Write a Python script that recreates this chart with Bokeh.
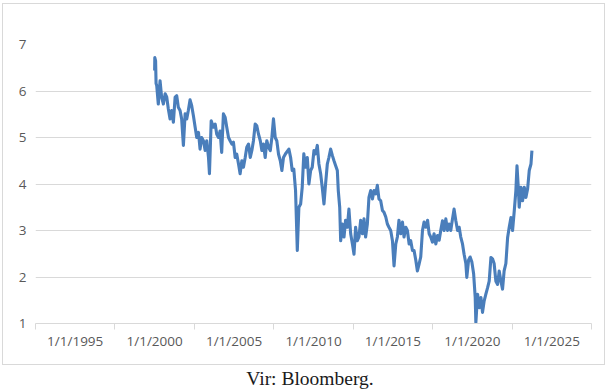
from bokeh.plotting import figure
from bokeh.models import FixedTicker, Range1d, ColumnDataSource, Div, InlineStyleSheet
from bokeh.layouts import column
from bokeh.embed import file_html
from bokeh.resources import INLINE

# decimal years and yields
years = [2000.00, 2000.01, 2000.06, 2000.09, 2000.13, 2000.23, 2000.34, 2000.44, 2000.55, 2000.66,
         2000.76, 2000.86, 2000.97, 2001.07, 2001.18, 2001.29, 2001.39, 2001.49, 2001.60, 2001.70,
         2001.81, 2001.92, 2002.02, 2002.12, 2002.23, 2002.33, 2002.44, 2002.55, 2002.65, 2002.76,
         2002.86, 2002.96, 2003.07, 2003.18, 2003.28, 2003.39, 2003.45, 2003.56, 2003.70, 2003.81,
         2003.91, 2004.02, 2004.12, 2004.22, 2004.33, 2004.44, 2004.54, 2004.65, 2004.75, 2004.86,
         2004.96, 2005.07, 2005.17, 2005.28, 2005.38, 2005.49, 2005.59, 2005.70, 2005.80, 2005.91,
         2006.02, 2006.12, 2006.22, 2006.33, 2006.43, 2006.54, 2006.65, 2006.75, 2006.85, 2006.96,
         2007.06, 2007.17, 2007.28, 2007.38, 2007.48, 2007.59, 2007.69, 2007.80, 2007.91, 2008.01,
         2008.11, 2008.24, 2008.45, 2008.56, 2008.66, 2008.76, 2008.87, 2008.98, 2009.08, 2009.19,
         2009.29, 2009.39, 2009.50, 2009.61, 2009.71, 2009.82, 2009.92, 2010.03, 2010.13, 2010.24,
         2010.34, 2010.45, 2010.55, 2010.66, 2010.76, 2010.87, 2010.97, 2011.08, 2011.19, 2011.29,
         2011.39, 2011.50, 2011.56, 2011.65, 2011.71, 2011.82, 2011.92, 2012.02, 2012.13, 2012.23,
         2012.34, 2012.45, 2012.55, 2012.65, 2012.76, 2012.86, 2012.97, 2013.08, 2013.18, 2013.28,
         2013.39, 2013.49, 2013.60, 2013.71, 2013.81, 2013.92, 2014.02, 2014.12, 2014.23, 2014.34,
         2014.44, 2014.55, 2014.65, 2014.75, 2014.86, 2014.97, 2015.07, 2015.18, 2015.28, 2015.38,
         2015.49, 2015.60, 2015.70, 2015.81, 2015.91, 2016.02, 2016.12, 2016.23, 2016.33, 2016.44,
         2016.54, 2016.65, 2016.75, 2016.86, 2016.96, 2017.07, 2017.18, 2017.28, 2017.38, 2017.49,
         2017.59, 2017.70, 2017.81, 2017.91, 2018.01, 2018.12, 2018.22, 2018.33, 2018.44, 2018.54,
         2018.64, 2018.75, 2018.85, 2018.96, 2019.07, 2019.17, 2019.27, 2019.38, 2019.48, 2019.59,
         2019.65, 2019.76, 2019.86, 2019.97, 2020.08, 2020.18, 2020.22, 2020.33, 2020.43, 2020.54,
         2020.64, 2020.74, 2020.85, 2020.96, 2021.06, 2021.17, 2021.27, 2021.37, 2021.48, 2021.59,
         2021.69, 2021.80, 2021.90, 2022.00, 2022.11, 2022.22, 2022.32, 2022.43, 2022.53, 2022.64,
         2022.74, 2022.81, 2022.89, 2022.95, 2023.06, 2023.16, 2023.27, 2023.37, 2023.48, 2023.58,
         2023.69, 2023.75]

yields = [6.44, 6.72, 6.65, 6.16, 6.12, 5.72, 6.22, 5.87, 5.72, 5.94,
          5.87, 5.62, 5.40, 5.58, 5.33, 5.87, 5.90, 5.65, 5.58, 5.40,
          4.83, 5.51, 5.40, 5.58, 5.81, 5.69, 5.47, 5.22, 5.00, 5.11,
          4.75, 5.00, 4.93, 4.72, 4.93, 4.57, 4.22, 5.36, 5.22, 5.29,
          5.07, 5.00, 5.14, 4.68, 5.51, 5.43, 5.22, 5.00, 4.93, 4.86,
          4.90, 4.57, 4.64, 4.43, 4.22, 4.50, 4.36, 4.57, 4.79, 4.86,
          4.57, 4.72, 4.93, 5.29, 5.25, 5.07, 4.93, 4.72, 4.86, 4.57,
          4.93, 4.79, 4.72, 5.00, 5.40, 5.00, 4.93, 4.64, 4.50, 4.29,
          4.57, 4.65, 4.75, 4.57, 4.29, 4.32, 3.86, 2.57, 3.50, 3.57,
          3.93, 4.65, 4.36, 4.57, 4.00, 4.29, 4.36, 4.72, 4.65, 4.83,
          4.43, 4.22, 3.93, 3.57, 4.00, 4.43, 4.57, 4.75, 4.61, 4.50,
          4.40, 4.29, 3.86, 3.50, 2.78, 3.14, 2.86, 3.22, 3.07, 3.46,
          2.93, 2.71, 2.49, 3.07, 2.78, 2.86, 3.22, 2.93, 3.25, 2.86,
          3.14, 3.71, 3.86, 3.68, 3.86, 3.79, 3.97, 3.68, 3.64, 3.43,
          3.39, 3.29, 3.14, 3.07, 3.00, 2.78, 2.24, 2.71, 2.86, 3.22,
          2.93, 3.18, 2.86, 3.07, 3.00, 2.71, 2.78, 2.57, 2.57, 2.36,
          2.13, 2.28, 2.43, 3.00, 3.18, 3.07, 3.22, 2.93, 2.86, 2.75,
          2.93, 2.71, 2.89, 2.79, 3.00, 3.21, 3.00, 3.25, 3.00, 3.14,
          3.00, 3.25, 3.46, 3.21, 3.00, 3.07, 2.86, 2.71, 2.49, 2.29,
          1.99, 2.36, 2.43, 2.32, 2.07, 1.56, 1.02, 1.63, 1.34, 1.56,
          1.24, 1.48, 1.63, 1.77, 1.91, 2.42, 2.39, 2.29, 1.91, 1.84,
          2.13, 1.91, 1.74, 2.13, 2.29, 2.85, 3.07, 3.28, 3.00, 3.43,
          3.86, 4.39, 3.93, 3.50, 3.93, 3.64, 3.93, 3.71, 3.90, 4.29,
          4.43, 4.72]

label_years = [1995, 2000, 2005, 2010, 2015, 2020, 2025]
tick_labels = ["1/1/1995", "1/1/2000", "1/1/2005", "1/1/2010", "1/1/2015", "1/1/2020", "1/1/2025"]
boundary_years = [1992.5, 1997.5, 2002.5, 2007.5, 2012.5, 2017.5, 2022.5, 2027.5]
y_ticks = [1, 2, 3, 4, 5, 6, 7]
caption = "Vir: Bloomberg."

GRID = "#d9d9d9"
LABEL = "#595959"
FONT = "Open Sans"

p = figure(width=610, height=366, output_backend="svg", toolbar_location=None,
           x_range=Range1d(1992.5, 2027.5), y_range=Range1d(1, 7),
           min_border_left=35, min_border_right=19, min_border_top=44, min_border_bottom=43)
p.outline_line_color = None
p.background_fill_color = "white"
p.border_fill_color = "white"
p.stylesheets = [InlineStyleSheet(css=(
    ":host { position: relative; }\n"
    ":host::after { content: ''; position: absolute; left: 2px; top: 3px; "
    "width: 603px; height: 362px; border: 1px solid #d9d9d9; "
    "pointer-events: none; z-index: 10; }"))]

src = ColumnDataSource(data=dict(x=years, y=yields))
p.line("x", "y", source=src, line_color="#4a7ebb", line_width=3.1, line_join="round")

# x axis
xa = p.xaxis[0]
xa.ticker = FixedTicker(ticks=label_years, minor_ticks=boundary_years)
xa.major_label_overrides = {yv: lab for yv, lab in zip(label_years, tick_labels)}
xa.major_tick_line_color = None
xa.major_tick_out = 0
xa.major_tick_in = 0
xa.minor_tick_line_color = GRID
xa.minor_tick_out = 6
xa.minor_tick_in = 0
xa.axis_line_color = GRID
xa.major_label_standoff = 2
xa.major_label_text_font = FONT
xa.major_label_text_font_size = "13.5px"
xa.major_label_text_color = LABEL

# y axis
ya = p.yaxis[0]
ya.ticker = FixedTicker(ticks=y_ticks)
ya.axis_line_color = None
ya.major_tick_line_color = None
ya.minor_tick_line_color = None
ya.major_tick_out = 0
ya.major_tick_in = 0
ya.major_label_standoff = 9
ya.major_label_text_font = FONT
ya.major_label_text_font_size = "13.5px"
ya.major_label_text_color = LABEL

p.xgrid.grid_line_color = None
p.ygrid.grid_line_color = GRID
p.ygrid.grid_line_width = 1

cap = Div(text=caption, width=610, height=26,
          styles={"text-align": "center", "font-family": "Liberation Serif",
                  "font-size": "19.5px", "line-height": "15px", "color": "#1a1a1a"})

layout = column(p, cap, spacing=0)
open("out.html", "w").write(file_html(layout, INLINE))
